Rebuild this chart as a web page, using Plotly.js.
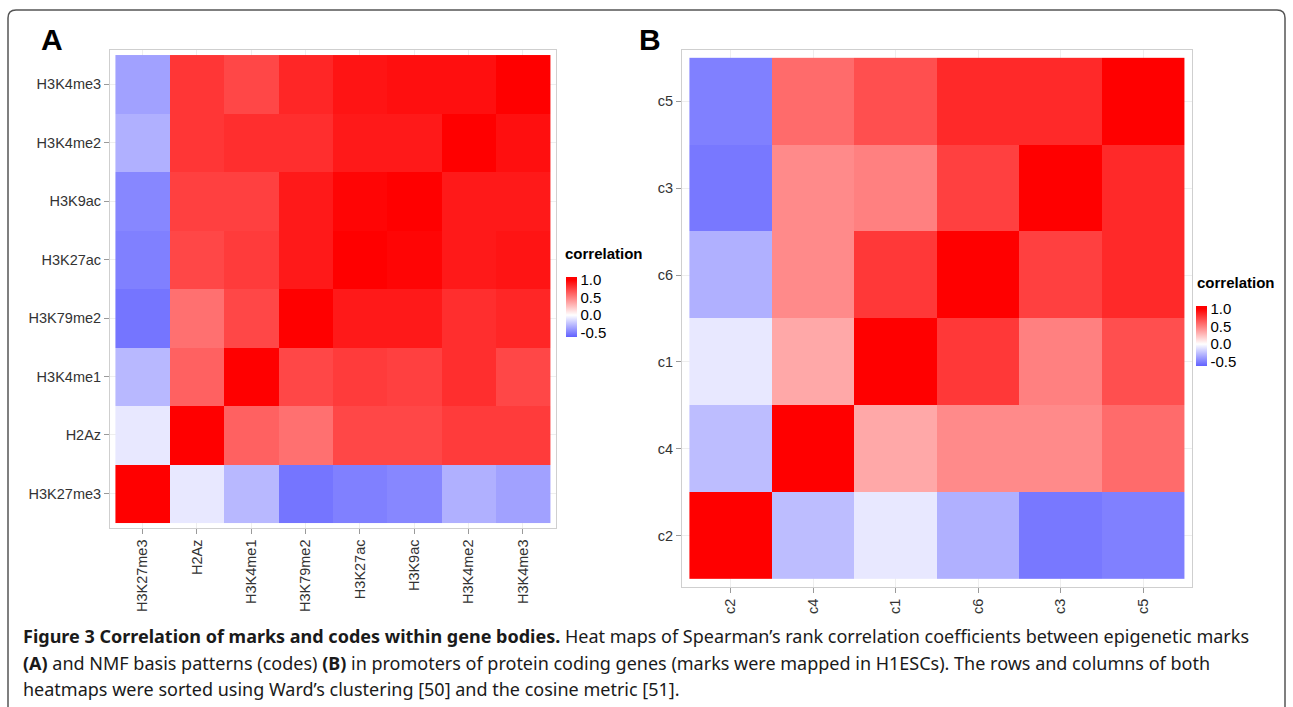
<!DOCTYPE html>
<html>
<head>
<meta charset="utf-8">
<script src="https://cdn.plot.ly/plotly-3.0.1.min.js"></script>
<style>
  html, body { margin: 0; padding: 0; background: #fff; }
  #chart { width: 1293px; height: 707px; }
</style>
</head>
<body>
<div id="chart"></div>
<script>
// ---------- Data ----------
// Panel A: columns (left to right)
const marksX = ['H3K27me3','H2Az','H3K4me1','H3K79me2','H3K27ac','H3K9ac','H3K4me2','H3K4me3'];
// Panel A: rows (top to bottom)
const marksY = ['H3K4me3','H3K4me2','H3K9ac','H3K27ac','H3K79me2','H3K4me1','H2Az','H3K27me3'];
const rowH3K4me3  = [-0.37, 0.79, 0.72, 0.85, 0.92, 0.94, 0.94, 1.00];
const rowH3K4me2  = [-0.31, 0.79, 0.82, 0.82, 0.90, 0.90, 1.00, 0.94];
const rowH3K9ac   = [-0.47, 0.75, 0.75, 0.90, 0.98, 1.00, 0.90, 0.90];
const rowH3K27ac  = [-0.50, 0.72, 0.77, 0.90, 1.00, 0.98, 0.90, 0.92];
const rowH3K79me2 = [-0.54, 0.56, 0.72, 1.00, 0.90, 0.90, 0.82, 0.85];
const rowH3K4me1  = [-0.28, 0.62, 1.00, 0.72, 0.77, 0.75, 0.82, 0.72];
const rowH2Az     = [-0.09, 1.00, 0.62, 0.56, 0.72, 0.72, 0.77, 0.77];
const rowH3K27me3 = [ 1.00,-0.09,-0.28,-0.54,-0.50,-0.47,-0.31,-0.37];

// Panel B: columns (left to right)
const codesX = ['c2','c4','c1','c6','c3','c5'];
// Panel B: rows (top to bottom)
const codesY = ['c5','c3','c6','c1','c4','c2'];
const rowC5 = [-0.50, 0.58, 0.69, 0.84, 0.84, 1.00];
const rowC3 = [-0.53, 0.46, 0.50, 0.75, 1.00, 0.84];
const rowC6 = [-0.31, 0.46, 0.78, 1.00, 0.75, 0.84];
const rowC1 = [-0.09, 0.34, 1.00, 0.78, 0.50, 0.69];
const rowC4 = [-0.26, 1.00, 0.34, 0.46, 0.46, 0.58];
const rowC2 = [ 1.00,-0.26,-0.09,-0.31,-0.53,-0.50];

const cbTicks = [-0.5, 0, 0.5, 1.0];
const cbTickText = ['-0.5', '0.0', '0.5', '1.0'];

// ---------- Styling helpers ----------
const W = 1293, H = 707;
const px = v => v / W;
const py = v => 1 - v / H;

const zLo = -0.62, zHi = 1.08;          // displayed colour-bar range
function mix(a, b, t) { return Math.round(a + (b - a) * t); }
function makeScale() {
  const span = zHi - zLo;
  const pos = v => (v - zLo) / span;
  const t0 = -zLo;
  const lo = `rgb(${mix(255,0,t0)},${mix(255,0,t0)},255)`;
  return [[0, lo], [pos(0), 'rgb(255,255,255)'], [pos(1), 'rgb(255,0,0)'], [1, 'rgb(255,0,0)']];
}
const scale = makeScale();

const font = 'Liberation Sans, Arial, sans-serif';
const tickFont = { family: font, size: 14.5, color: '#333333' };

function cb(xLeft, yTop) {
  return {
    thickness: 11, thicknessmode: 'pixels',
    len: 60, lenmode: 'pixels',
    x: px(xLeft), xanchor: 'left', y: py(yTop), yanchor: 'top',
    xpad: 0, ypad: 0,
    tickvals: cbTicks, ticktext: cbTickText, ticks: '', ticklen: 0,
    tickfont: { family: font, size: 15, color: '#000' },
    outlinewidth: 0, borderwidth: 0
  };
}

const traceA = {
  type: 'heatmap', x: marksX, y: marksY,
  z: [rowH3K4me3, rowH3K4me2, rowH3K9ac, rowH3K27ac, rowH3K79me2, rowH3K4me1, rowH2Az, rowH3K27me3],
  zmin: zLo, zmax: zHi, colorscale: scale,
  xaxis: 'x', yaxis: 'y', colorbar: cb(566, 277), hoverongaps: false
};
const traceB = {
  type: 'heatmap', x: codesX, y: codesY,
  z: [rowC5, rowC3, rowC6, rowC1, rowC4, rowC2],
  zmin: zLo, zmax: zHi, colorscale: scale,
  xaxis: 'x2', yaxis: 'y2', colorbar: cb(1196, 306), hoverongaps: false
};

function axis(dom, extra) {
  return Object.assign({
    domain: dom, type: 'category',
    showline: true, mirror: true, linecolor: '#cfcfcf', linewidth: 1,
    ticks: 'outside', ticklen: 5, tickcolor: '#9a9a9a', tickwidth: 1,
    showgrid: true, gridcolor: '#eeeeee', gridwidth: 1,
    zeroline: false, tickfont: tickFont, fixedrange: true
  }, extra);
}

const padAx = 0.1, padAy = 0.086;
const padBx = 0.09, padBy = 0.09;

const capFont = { family: 'Noto Sans, Open Sans, sans-serif', size: 18, color: '#1a1a1a' };

const layout = {
  width: W, height: H,
  margin: { l: 0, r: 0, t: 0, b: 0 },
  paper_bgcolor: '#ffffff', plot_bgcolor: '#ffffff',
  showlegend: false,
  xaxis: axis([px(110), px(555.5)], {
    range: [-0.5 - padAx, 7.5 + padAx], tickangle: -90, anchor: 'y'
  }),
  yaxis: axis([py(527.7), py(50)], {
    range: [7.5 + padAy, -0.5 - padAy], anchor: 'x'
  }),
  xaxis2: axis([px(682), px(1192)], {
    range: [-0.5 - padBx, 5.5 + padBx], tickangle: -90, anchor: 'y2'
  }),
  yaxis2: axis([py(587), py(50)], {
    range: [5.5 + padBy, -0.5 - padBy], anchor: 'x2'
  }),
  shapes: [
    { type: 'path', xref: 'paper', yref: 'paper',
      path: `M ${px(8)} ${py(740)} L ${px(8)} ${py(18)} Q ${px(8)} ${py(10)} ${px(16)} ${py(10)} L ${px(1277)} ${py(10)} Q ${px(1285)} ${py(10)} ${px(1285)} ${py(18)} L ${px(1285)} ${py(740)}`,
      line: { color: '#555555', width: 1.5 } }
  ],
  annotations: [
    { text: '<b>A</b>', x: px(52), y: py(40), xref: 'paper', yref: 'paper', showarrow: false,
      xanchor: 'center', yanchor: 'middle', font: { family: font, size: 30, color: '#000' } },
    { text: '<b>B</b>', x: px(650), y: py(40), xref: 'paper', yref: 'paper', showarrow: false,
      xanchor: 'center', yanchor: 'middle', font: { family: font, size: 30, color: '#000' } },
    { text: '<b>correlation</b>', x: px(563), y: py(253), xref: 'paper', yref: 'paper', showarrow: false,
      xanchor: 'left', yanchor: 'middle', font: { family: font, size: 15, color: '#000' } },
    { text: '<b>correlation</b>', x: px(1195), y: py(283), xref: 'paper', yref: 'paper', showarrow: false,
      xanchor: 'left', yanchor: 'middle', font: { family: font, size: 15, color: '#000' } },
    { text: '<b>Figure 3 Correlation of marks and codes within gene bodies.</b> Heat maps of Spearman\u2019s rank correlation coefficients between epigenetic marks',
      x: px(21), y: py(636), xref: 'paper', yref: 'paper', showarrow: false, xanchor: 'left', yanchor: 'middle', font: capFont },
    { text: '<b>(A)</b> and NMF basis patterns (codes) <b>(B)</b> in promoters of protein coding genes (marks were mapped in H1ESCs). The rows and columns of both',
      x: px(21), y: py(663), xref: 'paper', yref: 'paper', showarrow: false, xanchor: 'left', yanchor: 'middle', font: capFont },
    { text: 'heatmaps were sorted using Ward\u2019s clustering [50] and the cosine metric [51].',
      x: px(21), y: py(689), xref: 'paper', yref: 'paper', showarrow: false, xanchor: 'left', yanchor: 'middle', font: capFont }
  ]
};

Plotly.newPlot('chart', [traceA, traceB], layout, { displayModeBar: false, staticPlot: true });
</script>
</body>
</html>
